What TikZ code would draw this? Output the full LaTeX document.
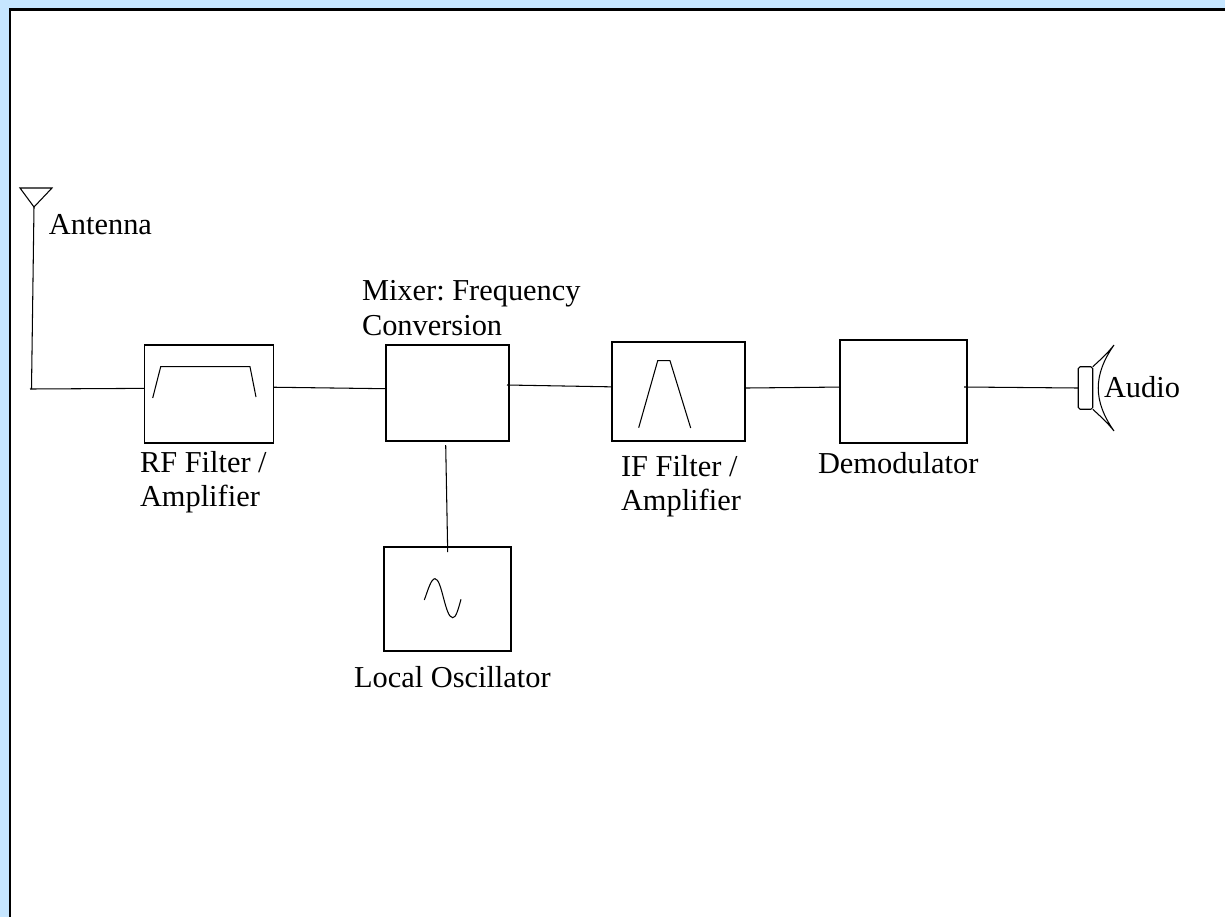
\documentclass[tikz,border=0pt]{standalone}
\usepackage{fontspec}
\setmainfont{Liberation Serif}
\usepackage{tikz}
\usetikzlibrary{calc}
\definecolor{pageblue}{HTML}{C6E6FF}
\tikzset{
	rline/.style={draw=black,line width=0.6pt},
	rblock/.style={draw=black,line width=0.6pt,rectangle,inner sep=0pt,outer sep=0pt},
	rlabel/.style={inner sep=0pt,outer sep=0pt,align=left,anchor=west,font=\fontsize{17.3pt}{19.6pt}\selectfont\frenchspacing}
}
\begin{document}
\begin{tikzpicture}[x=0.02cm,y=-0.02cm]
	\useasboundingbox (0,0) rectangle (1225,917);
	\fill[pageblue] (0,0) rectangle (1225,917);
	\fill[white] (9,8) rectangle (1225,917);
	\fill[black] (9,8) rectangle (1225,10.5);
	\fill[black] (9,8) rectangle (11,917);

	\node[rblock,minimum width=2.58cm,minimum height=1.96cm] (rffilter) at (209,394) {};
	\node[rblock,minimum width=2.46cm,minimum height=1.92cm] (mixer) at (447.5,393) {};
	\node[rblock,minimum width=2.66cm,minimum height=1.98cm] (iffilter) at (678.5,391.5) {};
	\node[rblock,minimum width=2.54cm,minimum height=2.06cm] (demod) at (903.5,391.5) {};
	\node[rblock,minimum width=2.54cm,minimum height=2.08cm] (localosc) at (447.5,599) {};
	\node[rblock,rounded corners=1pt,minimum width=0.29cm,minimum height=0.85cm] (speaker) at (1085.5,388) {};

	\coordinate (anttip) at (34,207);
	\coordinate (antfoot) at (31.5,389);
	\coordinate (antstub) at (30,389);
	\coordinate (mixerout) at (507,385);
	\coordinate (demodout) at (964,387);
	\coordinate (lotap) at (445.7,445);
	\coordinate (loin) at (447.7,552);

	\draw[rline] (20,188) -- (52,188) -- (anttip) -- cycle;
	\draw[rline] (anttip) -- (antfoot);
	\draw[rline] (antstub) -- (rffilter.175.6);
	\draw[rline] (rffilter.6.2) -- (mixer.176.3);
	\draw[rline] (mixerout) -- (iffilter.176.1);
	\draw[rline] (iffilter.3.9) -- (demod.176);
	\draw[rline] (demodout) -- (speaker.west);
	\draw[rline] (lotap) -- (loin);

	\draw[rline] (152.7,398) -- (160.7,366.7) -- (250,366.7) -- (256,397);
	\draw[rline] (638.7,427.7) -- (657.7,360.7) -- (670,360.7) -- (690.7,428);
	\draw[rline] (424.3,600) .. controls (428,590) and (431,578.7) .. (435,578.7)
		.. controls (442,578.7) and (445,617.7) .. (452.7,617.7)
		.. controls (456,617.7) and (458,610) .. (461,599.3);

	\draw[rline] (speaker.north east) .. controls (1100,360) and (1107,354) .. (1114,345)
		.. controls (1093,375) and (1093,401) .. (1114,431)
		.. controls (1107,422) and (1100,416) .. (speaker.south east);

	\node[rlabel] (antlabel) at (49,225) {Antenna};
	\node[rlabel] (mixlabel) at (362,308) {Mixer: Frequency\\Conversion};
	\node[rlabel] (rflabel) at (140,482) {RF Filter /\\Amplifier};
	\node[rlabel] (iflabel) at (621,486) {IF Filter /\\Amplifier};
	\node[rlabel] (demodlabel) at (818,463) {Demodulator};
	\node[rlabel] (osclabel) at (354,677) {Local Oscillator};
	\node[rlabel] (audiolabel) at (1104,387) {Audio};
\end{tikzpicture}
\end{document}
